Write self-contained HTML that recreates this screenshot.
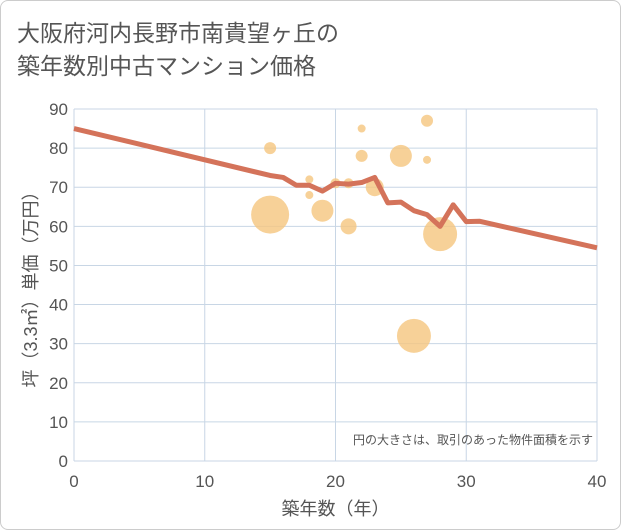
<!DOCTYPE html>
<html><head><meta charset="utf-8"><style>
body{margin:0;background:#fff;font-family:"Liberation Sans","Noto Sans CJK JP",sans-serif;}
#wrap{position:relative;width:619px;height:528px;border:1px solid #ccc;border-radius:8px;background:#fff;overflow:hidden}
#title{position:absolute;left:16px;top:14px;font-size:23px;line-height:33px;color:#555;font-family:"Noto Sans CJK JP",sans-serif}
svg{position:absolute;left:0;top:0}
</style></head><body>
<div id="wrap">
<div id="title">大阪府河内長野市南貴望ヶ丘の<br>築年数別中古マンション価格</div>
<svg id="chart" width="621" height="530"></svg>
</div>
<script>
const xTicks=[0,10,20,30,40];
const yTicks=[0,10,20,30,40,50,60,70,80,90];
const bubbleX=[15,15,18,18,19,20,21,21,22,22,23,25,26,27,27,28];
const bubbleY=[80,63,72,68,64,71,60,71,85,78,70,78,32,87,77,58];
const bubbleR=[6,19,4,4,11,5,8,5,4,6,9,11,17,6,4,17];
const lineX=[0,15,16,17,18,19,20,21,22,23,24,25,26,27,28,29,30,31,40];
const lineY=[85,73,72.5,70.5,70.5,69,71,70.8,71.2,72.5,66,66.2,64,63,60,65.5,61.2,61.3,54.5];
const NS="http://www.w3.org/2000/svg";
const svg=document.getElementById('chart');
const X0=73,X1=596,Y0=460,Y1=108;
const sx=v=>X0+(X1-X0)*v/40, sy=v=>Y0-(Y0-Y1)*v/90;
function mk(t,a){const e=document.createElementNS(NS,t);for(const k in a)e.setAttribute(k,a[k]);svg.appendChild(e);return e;}
xTicks.forEach(t=>{
 const l=mk('line',{x1:sx(t),x2:sx(t),y1:Y1,y2:Y0,stroke:'#c8d6e5','stroke-width':1});
 
 
 const tx=mk('text',{x:sx(t),y:Y0+26,'text-anchor':'middle','font-size':17,fill:'#555'});tx.textContent=t;
 
 
});
yTicks.forEach(t=>{
 const l=mk('line',{x1:X0,x2:X1,y1:sy(t),y2:sy(t),stroke:'#c8d6e5','stroke-width':1});
 
 
 const tx=mk('text',{x:X0-6,y:sy(t)+6,'text-anchor':'end','font-size':17,fill:'#555'});tx.textContent=t;
 
 
});
bubbleX.forEach((x,i)=>{
 const c=mk('circle',{cx:sx(x),cy:sy(bubbleY[i]),r:bubbleR[i],fill:'#f5c67e','fill-opacity':0.8});
 
 
});
const p=mk('polyline',{points:lineX.map((x,i)=>sx(x)+','+sy(lineY[i])).join(' '),fill:'none',stroke:'#d4735a','stroke-width':5,'stroke-linejoin':'round'});


const note=mk('text',{x:592,y:443,'text-anchor':'end','font-size':12,fill:'#555'});note.textContent='円の大きさは、取引のあった物件面積を示す';


const xt=mk('text',{x:(X0+X1)/2,y:514,'text-anchor':'middle','font-size':18,fill:'#555'});xt.textContent='築年数（年）';


const yt=mk('text',{x:0,y:0,'text-anchor':'middle','font-size':18,fill:'#555',transform:'translate(36,284) rotate(-90)'});yt.textContent='坪（3.3㎡）単価（万円）';


</script>
</body></html>
